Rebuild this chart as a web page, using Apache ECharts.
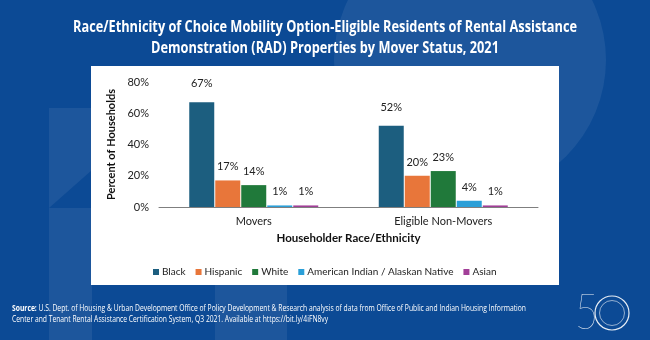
<!DOCTYPE html>
<html>
<head>
<meta charset="utf-8">
<script src="https://cdn.jsdelivr.net/npm/echarts@6/dist/echarts.min.js"></script>
<style>
  html, body { margin: 0; padding: 0; background: #0c4a95; }
  #chart { width: 650px; height: 340px; }
</style>
</head>
<body>
<div id="chart"></div>
<script>
// Mover status groups on the x axis
const categories = ['Movers', 'Eligible Non-Movers'];

// Share of households (%) per race/ethnicity, one value per group
const seriesNames = ['Black', 'Hispanic', 'White', 'American Indian / Alaskan Native', 'Asian'];
const black    = [67, 52];
const hispanic = [17, 20];
const white    = [14, 23];
const amIndian = [1, 4];
const asian    = [1, 1];
const seriesValues = [black, hispanic, white, amIndian, asian];

const colors = ['#1c5e7f', '#e8763a', '#20793a', '#2a9fd8', '#a23f98'];

const yTicks = { min: 0, max: 80, interval: 20 };

const titleLines = [
  'Race/Ethnicity of Choice Mobility Option-Eligible Residents of Rental Assistance',
  'Demonstration (RAD) Properties by Mover Status, 2021'
];
const sourceLabel = 'Source:';
const sourceLine1 = 'U.S. Dept. of Housing & Urban Development Office of Policy Development & Research analysis of data from Office of Public and Indian Housing Information';
const sourceLine2 = 'Center and Tenant Rental Assistance Certification System, Q3 2021. Available at https://bit.ly/4iFN8vy';

const body = 'Lato, "Open Sans", sans-serif';
const titleFont = 'bold 16px "Open Sans", sans-serif';
const noteFont = '9px "Open Sans", sans-serif';
const noteBold = 'bold 9px "Open Sans", sans-serif';

// condensed look: measure natural width and squeeze horizontally
const measureCtx = document.createElement('canvas').getContext('2d');
function textWidth(str, font) {
  measureCtx.font = font;
  return measureCtx.measureText(str).width;
}
const titleScale = 504 / textWidth(titleLines[0], titleFont);
const noteScale = 514 / (textWidth(sourceLabel + ' ', noteBold) + textWidth(sourceLine1, noteFont));

const chart = echarts.init(document.getElementById('chart'), null, { renderer: 'canvas' });

chart.setOption({
  backgroundColor: '#0c4a95',
  animation: false,
  graphic: [
    // soft background shapes
    { type: 'circle', z: -10, shape: { cx: 470, cy: 60, r: 136 },
      style: { fill: 'rgba(255,255,255,0.07)' } },
    { type: 'rect', z: -10, shape: { x: 49, y: 108, width: 43, height: 232 },
      style: { fill: 'rgba(255,255,255,0.07)' } },
    { type: 'polygon', z: -9, shape: { points: [[49, 208], [92, 170], [92, 208]] },
      style: { fill: '#0c4a95' } },
    { type: 'rect', z: -10, shape: { x: 215, y: 285, width: 72, height: 55 },
      style: { fill: 'rgba(255,255,255,0.07)' } },
    // white chart panel
    { type: 'rect', z: -5, shape: { x: 91, y: 66, width: 468, height: 219 },
      style: { fill: '#ffffff' } },
    // title, two centred lines
    { type: 'text', x: 325, y: 27, scaleX: titleScale,
      style: { text: titleLines[0], fill: '#ffffff', font: titleFont,
               align: 'center', verticalAlign: 'middle' } },
    { type: 'text', x: 325, y: 48, scaleX: titleScale,
      style: { text: titleLines[1], fill: '#ffffff', font: titleFont,
               align: 'center', verticalAlign: 'middle' } },
    // source note
    { type: 'text', x: 12, y: 308, scaleX: noteScale,
      style: {
        text: '{b|' + sourceLabel + '} ' + sourceLine1,
        fill: '#ffffff', font: noteFont, verticalAlign: 'middle',
        rich: { b: { fontWeight: 'bold', fill: '#ffffff', fontSize: 9, fontFamily: '"Open Sans", sans-serif' } }
      } },
    { type: 'text', x: 12, y: 319, scaleX: noteScale,
      style: { text: sourceLine2, fill: '#ffffff', font: noteFont, verticalAlign: 'middle' } },
    // anniversary mark
    { type: 'text', x: 575, y: 313, scaleX: 0.8,
      style: { text: '5', fill: 'rgba(255,255,255,0.9)', font: '100 50px Lato, sans-serif',
               verticalAlign: 'middle' } },
    { type: 'circle', shape: { cx: 612, cy: 313, r: 17 },
      style: { fill: 'none', stroke: 'rgba(255,255,255,0.9)', lineWidth: 1.2 } },
    { type: 'circle', shape: { cx: 612, cy: 313, r: 12.5 },
      style: { fill: 'none', stroke: 'rgba(255,255,255,0.7)', lineWidth: 0.8 } }
  ],
  legend: {
    data: seriesNames,
    left: 148,
    top: 262,
    itemWidth: 6,
    itemHeight: 6,
    itemGap: 10,
    icon: 'rect',
    textStyle: { color: '#222', fontFamily: body, fontSize: 10, padding: [0, 0, 0, -2] }
  },
  grid: { left: 159, right: 112, top: 82, bottom: 133, containLabel: false },
  xAxis: {
    type: 'category',
    data: categories,
    name: 'Householder Race/Ethnicity',
    nameLocation: 'middle',
    nameGap: 25,
    nameTextStyle: { color: '#111', fontFamily: body, fontWeight: 'bold', fontSize: 11.5 },
    axisLine: { lineStyle: { color: '#7f7f7f', width: 1 } },
    axisTick: { show: false },
    axisLabel: { color: '#222', fontFamily: body, fontSize: 11, margin: 9 }
  },
  yAxis: {
    type: 'value',
    min: yTicks.min,
    max: yTicks.max,
    interval: yTicks.interval,
    name: 'Percent of Households',
    nameLocation: 'middle',
    nameGap: 29,
    nameRotate: 90,
    nameTextStyle: { color: '#111', fontFamily: body, fontWeight: 'bold', fontSize: 11 },
    axisLine: { show: false },
    axisTick: { show: false },
    splitLine: { show: false },
    axisLabel: { color: '#222', fontFamily: body, fontSize: 11, margin: 10, formatter: '{value}%' }
  },
  series: seriesNames.map((name, i) => ({
    name: name,
    type: 'bar',
    data: seriesValues[i],
    barWidth: 25,
    barGap: '4%',
    itemStyle: { color: colors[i] },
    label: {
      show: true,
      position: 'top',
      distance: i === 0 ? 13 : 8,
      formatter: '{c}%',
      color: '#222',
      fontFamily: body,
      fontSize: 11
    }
  }))
});
</script>
</body>
</html>
